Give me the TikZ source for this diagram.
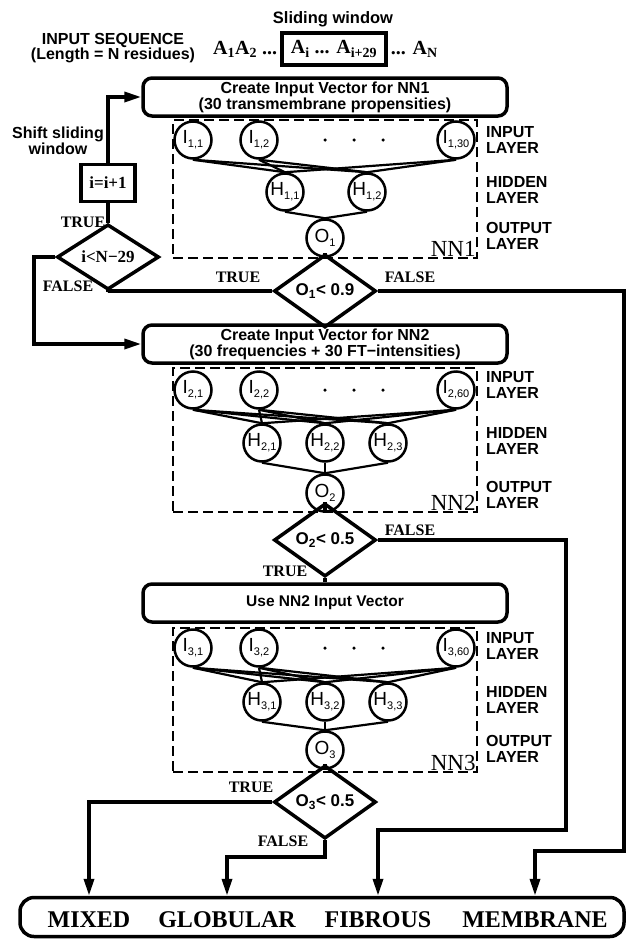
\documentclass[tikz,border=0pt]{standalone}
\usepackage{fontspec}
\setmainfont{Liberation Serif}
\setsansfont{Liberation Sans}
\usetikzlibrary{positioning, shapes.geometric, arrows.meta}

\newcommand{\nlabel}[2]{#1\raisebox{-4pt}{\fontsize{11}{11}\selectfont #2}}

\begin{document}
\begin{tikzpicture}[
            x = 1pt, y = -1pt,
            line/.style = {line width = 3.5pt},
            flow/.style = {line width = 3.5pt, -{Triangle[length = 17pt, width = 10pt]}},
            link/.style = {line width = 2.2pt},
            neuron/.style = {circle, draw, fill = white, line width = 2.5pt, minimum size = 37pt, inner sep = 0pt, font = \sffamily\fontsize{19}{19}\selectfont},
            dotmark/.style = {circle, fill, inner sep = 0pt, minimum size = 3.5pt},
            netbox/.style = {draw, line width = 1.6pt, dash pattern = on 10pt off 5pt, minimum width = 304pt, inner sep = 0pt},
            vecbox/.style = {draw, rounded corners = 9pt, line width = 3.5pt, minimum width = 364pt, minimum height = 38pt, align = center, font = \sffamily\bfseries\fontsize{16}{14}\selectfont},
            test/.style = {diamond, draw, line width = 3.5pt, minimum width = 102pt, minimum height = 48pt, inner sep = 0pt, font = \sffamily\bfseries\fontsize{17}{17}\selectfont},
            layer/.style = {anchor = west, align = left, inner sep = 0pt, font = \sffamily\bfseries\fontsize{16}{15.5}\selectfont},
            tag/.style = {inner sep = 0pt, font = \bfseries\fontsize{16}{16}\selectfont},
            nnlabel/.style = {anchor = south east, inner sep = 2pt, font = \fontsize{23}{23}\selectfont},
            classname/.style = {font = \bfseries\fontsize{24}{24}\selectfont},
            seq/.style = {inner sep = 0pt, font = \bfseries\fontsize{20}{20}\selectfont},
            ]

    \useasboundingbox (0, 0) rectangle (628, 940);

    \node[font = \sffamily\bfseries\fontsize{16.5}{16.5}\selectfont] (windowlab) at (333, 19) {Sliding window};
    \node[align = center, font = \sffamily\bfseries\fontsize{16}{14.5}\selectfont] (seqlab) at (113, 48) {INPUT SEQUENCE\\(Length = N residues)};
    \node[seq, draw, line width = 3.5pt, minimum width = 104pt, minimum height = 32pt] (slide) at (334, 49) {A\textsubscript{i} ... A\textsubscript{i+29}};
    \node[seq, left = 3pt of slide] (seqstart) {A\textsubscript{1}A\textsubscript{2} ...};
    \node[seq, right = 3pt of slide] (seqend) {... A\textsubscript{N}};

    \node[vecbox] (vec1) at (325, 97) {Create Input Vector for NN1\\(30 transmembrane propensities)};
    \node[vecbox] (vec2) at (325, 344) {Create Input Vector for NN2\\(30 frequencies + 30 FT−intensities)};
    \node[vecbox, font = \sffamily\bfseries\fontsize{15.5}{15.5}\selectfont] (vec3) at (325, 603) {Use NN2 Input Vector};

    \node[netbox, minimum height = 138pt] (net1) at (325, 189) {};
    \node[netbox, minimum height = 144pt] (net2) at (325, 440) {};
    \node[netbox, minimum height = 144pt] (net3) at (325, 700) {};
    \foreach \n in {1, 2, 3}
        \node[nnlabel] (nnlab\n) at (net\n.south east) {NN\n};

    \foreach \n/\yi/\yh/\yo in {1/140/190/236, 2/385/441/495, 3/646/700/749} {
        \node[layer] (inlab\n) at (486, \yi) {INPUT\\LAYER};
        \node[layer] (hidlab\n) at (486, \yh) {HIDDEN\\LAYER};
        \node[layer] (outlab\n) at (486, \yo) {OUTPUT\\LAYER};
    }

    \foreach \y in {140, 390, 648}
        \foreach \x in {325, 354, 383}
            \node[dotmark] (dot\x\y) at (\x, \y) {};

    \node[neuron] (i11) at (193, 140) {\nlabel{I}{1,1}};
    \node[neuron] (i12) at (259, 140) {\nlabel{I}{1,2}};
    \node[neuron] (i130) at (456, 140) {\nlabel{I}{1,30}};
    \node[neuron] (h11) at (285, 192) {\nlabel{H}{1,1}};
    \node[neuron] (h12) at (367, 192) {\nlabel{H}{1,2}};
    \node[neuron] (o1) at (325, 238) {\nlabel{O}{1}};
    \foreach \i in {i11, i12, i130}
        \foreach \h in {h11, h12}
            \draw[link] (\i.south) -- (\h.north);
    \foreach \h in {h11, h12}
        \draw[link] (\h.south) -- (o1.north);

    \foreach \n/\yi/\yh/\yo in {2/390/443/493, 3/648/702/750} {
        \node[neuron] (i\n1) at (193, \yi) {\nlabel{I}{\n,1}};
        \node[neuron] (i\n2) at (259, \yi) {\nlabel{I}{\n,2}};
        \node[neuron] (i\n60) at (456, \yi) {\nlabel{I}{\n,60}};
        \node[neuron] (h\n1) at (262, \yh) {\nlabel{H}{\n,1}};
        \node[neuron] (h\n2) at (325, \yh) {\nlabel{H}{\n,2}};
        \node[neuron] (h\n3) at (388, \yh) {\nlabel{H}{\n,3}};
        \node[neuron] (o\n) at (325, \yo) {\nlabel{O}{\n}};
        \foreach \i in {i\n1, i\n2, i\n60}
            \foreach \h in {h\n1, h\n2, h\n3}
                \draw[link] (\i.south) -- (\h.north);
        \foreach \h in {h\n1, h\n2, h\n3}
            \draw[link] (\h.south) -- (o\n.north);
    }

    \node[draw, line width = 3.5pt, minimum width = 54pt, minimum height = 37pt, font = \bfseries\fontsize{17}{17}\selectfont] (inc) at (108, 183) {i=i+1};
    \node[test, font = \bfseries\fontsize{17}{17}\selectfont] (cnt) at (108, 257) {i<N−29};
    \node[test] (t1) at (325, 291) {O\textsubscript{1}< 0.9};
    \node[test] (t2) at (325, 540) {O\textsubscript{2}< 0.5};
    \node[test] (t3) at (325, 802) {O\textsubscript{3}< 0.5};
    \node[align = center, font = \sffamily\bfseries\fontsize{16}{15.5}\selectfont] (shiftlab) at (58, 141) {Shift sliding\\window};

    \node[draw, line width = 3.5pt, rounded corners = 14pt, minimum width = 604pt, minimum height = 39pt] (result) at (322, 917) {};
    \node[classname] (mixed) at (89, 920) {MIXED};
    \node[classname] (globular) at (227, 920) {GLOBULAR};
    \node[classname] (fibrous) at (378, 920) {FIBROUS};
    \node[classname] (membrane) at (535, 920) {MEMBRANE};

    \coordinate (loopdown) at (34, 257);
    \coordinate (fibbend) at (566, 830);
    \coordinate (membend) at (624, 851);
    \coordinate (globbend) at (325, 857);

    \draw[line] (o1.south) -- (t1.north);
    \draw[line] (o2.south) -- (t2.north);
    \draw[line] (o3.south) -- (t3.north);
    \draw[line] (t2.south) -- (vec3.north);
    \draw[line] (cnt.north) -- (inc.south);
    \draw[flow] (inc.north) |- (vec1.west);
    \draw[line] (t1.west) -| (cnt.south);
    \draw[flow] (cnt.west) -- (loopdown) |- (vec2.west);
    \draw[flow] (t1.east) -| (membend) -| (membrane |- result.north);
    \draw[flow] (t2.east) -| (fibbend) -| (fibrous |- result.north);
    \draw[flow] (t3.west) -| (mixed |- result.north);
    \draw[flow] (t3.south) -- (globbend) -| (globular |- result.north);

    \node[tag] (true0) at (83, 222) {TRUE};
    \node[tag] (false0) at (68, 286) {FALSE};
    \node[tag] (true1) at (238, 277) {TRUE};
    \node[tag] (false1) at (410, 277) {FALSE};
    \node[tag] (false2) at (410, 530) {FALSE};
    \node[tag] (true2) at (285, 571) {TRUE};
    \node[tag] (true3) at (251, 787) {TRUE};
    \node[tag] (false3) at (283, 841) {FALSE};
\end{tikzpicture}
\end{document}
